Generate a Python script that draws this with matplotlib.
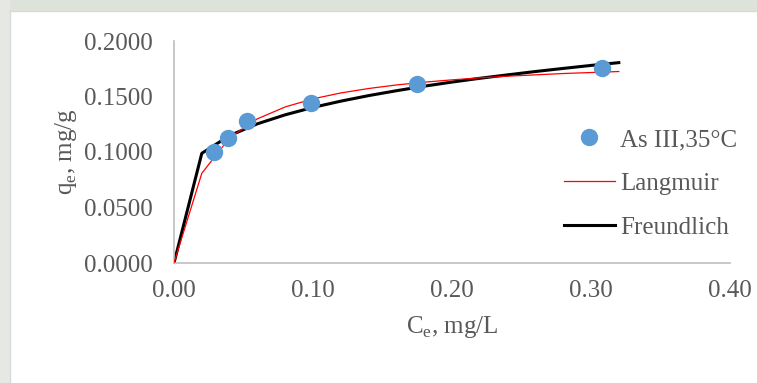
import matplotlib
matplotlib.use("Agg")
import matplotlib.pyplot as plt
from matplotlib.patches import Rectangle

# Measured equilibrium data, As(III) at 35 °C
ce_obs = [0.029, 0.039, 0.0525, 0.0988, 0.175, 0.308]
qe_obs = [0.1003, 0.1123, 0.1276, 0.1439, 0.1610, 0.1755]

# Fitted isotherm curves
ce_fit = [0.00, 0.02, 0.04, 0.06, 0.08, 0.10, 0.12, 0.14, 0.16,
          0.18, 0.20, 0.22, 0.24, 0.26, 0.28, 0.30, 0.32]
qe_langmuir = [0.0, 0.0808, 0.1128, 0.1299, 0.1406, 0.1479, 0.1532,
               0.1572, 0.1604, 0.1629, 0.1650, 0.1668, 0.1683,
               0.1695, 0.1707, 0.1716, 0.1725]
qe_freundlich = [0.0, 0.0988, 0.1148, 0.1254, 0.1335, 0.1402, 0.1458,
                 0.1508, 0.1552, 0.1593, 0.1630, 0.1664, 0.1695,
                 0.1725, 0.1753, 0.1780, 0.1805]

x_ticks = [0.0, 0.1, 0.2, 0.3, 0.4]
x_ticklabels = ["0.00", "0.10", "0.20", "0.30", "0.40"]
y_ticks = [0.0, 0.05, 0.10, 0.15, 0.20]
y_ticklabels = ["0.0000", "0.0500", "0.1000", "0.1500", "0.2000"]

plt.rcParams["font.family"] = ["Liberation Serif", "DejaVu Serif"]
plt.rcParams["mathtext.fontset"] = "custom"
plt.rcParams["mathtext.rm"] = "Liberation Serif"

W, H = 757, 383
fig = plt.figure(figsize=(W / 100, H / 100), dpi=100)
fig.patch.set_facecolor("white")

# pale backdrop strips around the chart box
fig.patches.append(Rectangle((0, 1 - 11 / H), 1, 11 / H, transform=fig.transFigure,
                             facecolor="#dde2da", edgecolor="none", zorder=0))
fig.patches.append(Rectangle((0, 0), 10 / W, 1, transform=fig.transFigure,
                             facecolor="#e6e9e3", edgecolor="none", zorder=0))
fig.lines.append(plt.Line2D([10 / W, 1], [1 - 11 / H, 1 - 11 / H], transform=fig.transFigure,
                            color="#d9d9d9", lw=1))
fig.lines.append(plt.Line2D([10 / W, 10 / W], [0, 1 - 11 / H], transform=fig.transFigure,
                            color="#d9d9d9", lw=1))

ax = fig.add_axes([174 / W, 1 - 263 / H, (730 - 174) / W, (263 - 41) / H])
ax.set_facecolor("none")

grey = "#595959"
fs = 18
ax.plot(ce_obs, qe_obs, "o", color="#5b9bd5", markersize=11.5, label="As III,35°C", zorder=4)
ax.plot(ce_fit, qe_langmuir, color="#ff0000", lw=0.9, label="Langmuir", zorder=3)
ax.plot(ce_fit, qe_freundlich, color="black", lw=2.2, label="Freundlich", zorder=2)

ax.set_xlim(0, 0.4)
ax.set_ylim(0, 0.2)
ax.set_xticks(x_ticks)
ax.set_xticklabels(x_ticklabels)
ax.set_yticks(y_ticks)
ax.set_yticklabels(y_ticklabels)
ax.tick_params(length=0, labelsize=fs, colors=grey)
ax.tick_params(axis="x", pad=12)
ax.tick_params(axis="y", pad=15)

for side in ("top", "right"):
    ax.spines[side].set_visible(False)
for side in ("left", "bottom"):
    ax.spines[side].set_color("#bfbfbf")
    ax.spines[side].set_linewidth(1.2)

ax.set_xlabel(r"C$_\mathregular{e}$, mg/L", fontsize=fs, color=grey, labelpad=9)
ax.set_ylabel(r"q$_\mathregular{e}$, mg/g", fontsize=fs, color=grey, labelpad=4)

leg = ax.legend(loc="upper left", bbox_to_anchor=(0.683, 0.65), frameon=False,
                fontsize=fs, labelcolor=grey, handlelength=2.05, handletextpad=0.2,
                labelspacing=0.85, borderaxespad=0)

fig.savefig("out.png", dpi=100, facecolor=fig.get_facecolor())
